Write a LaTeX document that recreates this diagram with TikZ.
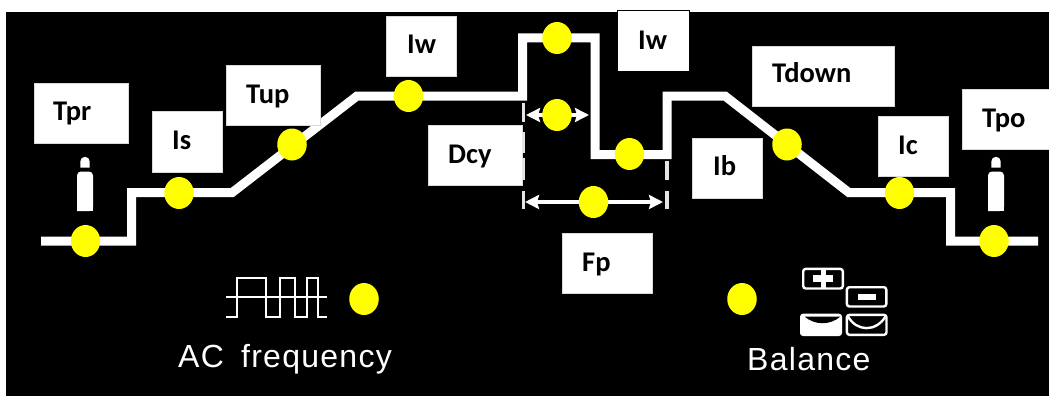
\documentclass[tikz,border=0pt]{standalone}
\usepackage{fontspec}
\setmainfont{Carlito}
\newfontfamily\panelfont[LetterSpace=4]{Liberation Sans}
\usetikzlibrary{arrows.meta,shapes.geometric}
\definecolor{dotyellow}{RGB}{255,255,0}
\tikzset{
    wave/.style={draw=white,line width=9pt,miter limit=4},
    knob/.style={ellipse,fill=dotyellow,inner sep=0pt,minimum width=29.5pt,minimum height=32pt},
    tagbox/.style={fill=white,draw=black!15,line width=0.7pt,inner sep=0pt,anchor=north west},
    tagtext/.style={anchor=base west,inner sep=0pt,text=black,font=\fontsize{28.5}{28.5}\selectfont\bfseries},
    paneltext/.style={anchor=base west,inner sep=0pt,text=white,font=\fontsize{32}{32}\selectfont\panelfont},
    tick/.style={draw=white!90!black,line width=3.5pt},
    span/.style={draw=white,line width=4pt,{Stealth[length=14pt,width=14pt,inset=2pt]}-{Stealth[length=14pt,width=14pt,inset=2pt]}},
    icon/.style={draw=white,line width=2.4pt,rounded corners=2.5pt},
    pulse/.style={draw=white,line width=2.4pt},
}
\begin{document}
\begin{tikzpicture}[x=1pt,y=-1pt]
    \useasboundingbox (0,0) rectangle (1049,396);
    \fill[white] (0,0) rectangle (1049,396);
    \fill[black] (6,12) rectangle (1049,396);

    % weld current curve
    \draw[wave] (41,241) -- (131.5,241) -- (131.5,192.7) -- (232,192.7) -- (357,96) -- (522.5,96) -- (522.5,38)
        -- (595,38) -- (595,154.5) -- (667,154.5) -- (667,96) -- (725,96) -- (849,192.7) -- (950.5,192.7)
        -- (950.5,241) -- (1038,241);

    % gas bottles
    \foreach \bx in {85,996} {
        \fill[white] (\bx-4.7,167.5) -- (\bx-4.7,161.5) arc[start angle=180,end angle=360,radius=4.7] -- (\bx+4.7,167.5) -- cycle;
        \fill[white,rounded corners=4pt] (\bx-8,211) -- (\bx-8,171.5) -- (\bx+8,171.5) -- (\bx+8,211) [sharp corners] -- cycle;
        \fill[white] (\bx-8,200) rectangle (\bx+8,211);
    }

    % boxes
    \node[tagbox,minimum width=94pt,minimum height=60pt]  (tprbox)   at (34,83)   {};
    \node[tagbox,minimum width=70pt,minimum height=61pt]  (isbox)    at (152,111) {};
    \node[tagbox,minimum width=94pt,minimum height=60pt]  (tupbox)   at (226,65)  {};
    \node[tagbox,minimum width=70pt,minimum height=60pt]  (iwbox)    at (386,16)  {};
    \node[tagbox,minimum width=94pt,minimum height=60pt]  (dcybox)   at (428,125) {};
    \node[tagbox,draw=black,minimum width=72pt,minimum height=61pt] (iwtopbox) at (617,10) {};
    \node[tagbox,minimum width=90pt,minimum height=60pt]  (fpbox)    at (562,233) {};
    \node[tagbox,minimum width=70pt,minimum height=60pt]  (ibbox)    at (692,138) {};
    \node[tagbox,minimum width=142pt,minimum height=60pt] (tdownbox) at (752,46)  {};
    \node[tagbox,minimum width=70pt,minimum height=60pt]  (icbox)    at (878,116) {};
    \node[tagbox,minimum width=87pt,minimum height=60pt]  (tpobox)   at (962,89)  {};

    % box texts
    \node[tagtext] (tprtext)   at (53,120)  {Tpr};
    \node[tagtext] (istext)    at (172,149) {Is};
    \node[tagtext] (tuptext)   at (246,103) {Tup};
    \node[tagtext] (iwtext)    at (407,53)  {Iw};
    \node[tagtext] (dcytext)   at (448,163) {Dcy};
    \node[tagtext] (iwtoptext) at (638,49)  {Iw};
    \node[tagtext] (fptext)    at (582,271) {Fp};
    \node[tagtext] (ibtext)    at (713,175) {Ib};
    \node[tagtext] (tdowntext) at (772,82)  {Tdown};
    \node[tagtext] (ictext)    at (898,154) {Ic};
    \node[tagtext] (tpotext)   at (982,127) {Tpo};

    % duty and frequency marks
    \coordinate (dcyl) at (526,115);
    \coordinate (dcyr) at (589,115);
    \coordinate (fpl)  at (525,202);
    \coordinate (fpr)  at (663,202);
    \draw[span] (dcyl) -- (dcyr);
    \draw[span] (fpl) -- (fpr);
    \foreach \ya/\yb in {103/122,132/153,158/180,191/209}
        \draw[tick] (523.5,\ya) -- (523.5,\yb);
    \foreach \ya/\yb in {161/180,191/209}
        \draw[tick] (667,\ya) -- (667,\yb);

    % knobs
    \node[knob] (ktpr)   at (85.5,241)  {};
    \node[knob] (kis)    at (179,193)   {};
    \node[knob] (ktup)   at (292,144.5) {};
    \node[knob] (kiw)    at (408.5,96)  {};
    \node[knob] (kiwtop) at (557,38)    {};
    \node[knob] (kdcy)   at (557,115)   {};
    \node[knob] (kib)    at (629.5,154) {};
    \node[knob] (kfp)    at (593.5,202) {};
    \node[knob] (ktdown) at (787,144.5) {};
    \node[knob] (kic)    at (899.5,193) {};
    \node[knob] (ktpo)   at (994,241)   {};
    \node[knob] (kfreq)  at (364,299)   {};
    \node[knob] (kbal)   at (742,299)   {};

    % AC frequency icon
    \draw[pulse] (226,297) -- (327,297);
    \draw[pulse] (226,317) -- (237,317) -- (237,278) -- (266,278) -- (266,317) -- (280,317)
        -- (280,278) -- (295,278) -- (295,317) -- (307,317) -- (307,278) -- (318,278) -- (318,317) -- (327,317);
    \node[paneltext] (freqtext) at (178,367) {AC\hspace{7pt} frequency};

    % balance icon
    \draw[icon] (803.2,268.9) rectangle (842.8,288.5);
    \draw[draw=white,line width=4.5pt] (823.5,268.9) -- (823.5,288.5);
    \fill[white] (813,275) rectangle (833,282);
    \draw[icon] (846.9,287.2) rectangle (886.3,306.5);
    \fill[white] (857.7,294.3) rectangle (876,299.7);
    \fill[white,rounded corners=3pt] (800,313.7) rectangle (842,336);
    \fill[black] (804.5,316.5) .. controls (815,325.5) and (830,325.5) .. (840.5,316.5) -- cycle;
    \draw[icon] (846.9,314.9) rectangle (886.5,334.8);
    \draw[pulse] (848,316.5) .. controls (857,332) and (876,332) .. (885.5,316.5);
    \node[paneltext] (baltext) at (747,370) {Balance};
\end{tikzpicture}
\end{document}
